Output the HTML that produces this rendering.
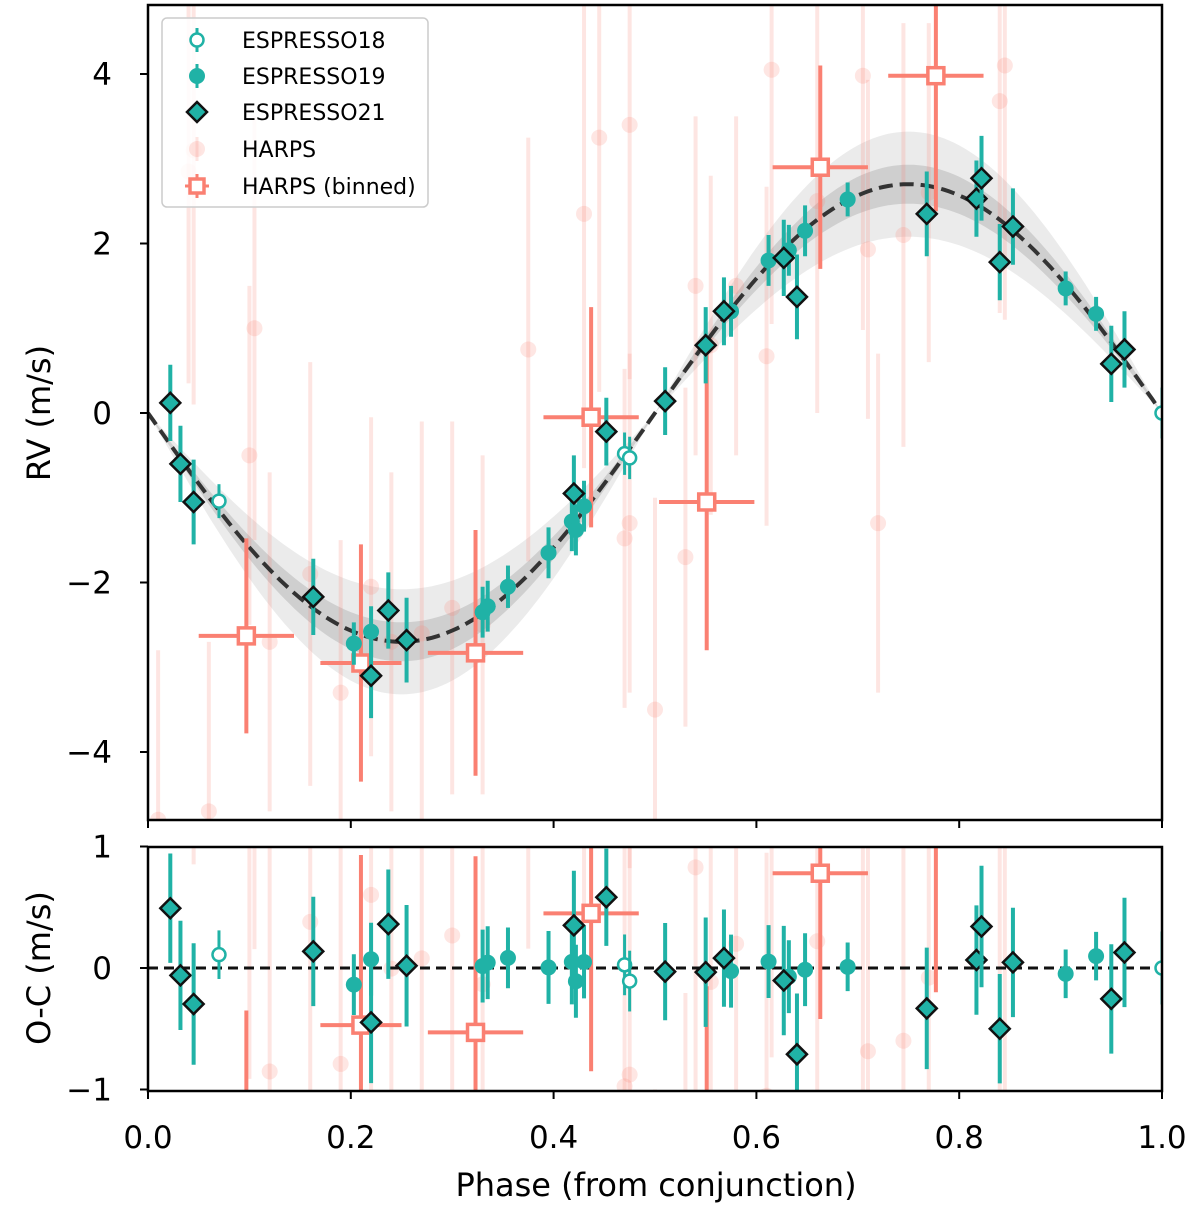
<!DOCTYPE html>
<html><head><meta charset="utf-8"><style>
html,body{margin:0;padding:0;background:#fff;overflow:hidden;}
svg{display:block;font-family:"DejaVu Sans","Liberation Sans",sans-serif;}
</style></head><body>
<svg id="chart" width="1200" height="1216" viewBox="0 0 1200 1216" xmlns="http://www.w3.org/2000/svg">
<defs>
<clipPath id="c1"><rect x="148" y="5" width="1014" height="815"/></clipPath>
<clipPath id="c2"><rect x="148" y="847" width="1014" height="244"/></clipPath>
</defs>
<g id="topPanel" clip-path="url(#c1)"></g>
<g id="botPanel" clip-path="url(#c2)"></g>
<g id="axes"></g>
<g id="legend"></g>
</svg>
<script>
// ---- data ----
const K = 2.7;
const bandDark = 0.23;
const bandLight = 0.62;
const esp18Phase = [0.07, 0.47, 0.475, 1.0];
const esp18RV = [-1.04, -0.48, -0.53, 0.0];
const esp18Err = [0.2, 0.25, 0.25, 0.3];
const esp19Phase = [0.203, 0.22, 0.33, 0.335, 0.355, 0.395, 0.418, 0.422, 0.43, 0.575, 0.612, 0.632, 0.648, 0.69, 0.905, 0.935];
const esp19RV = [-2.72, -2.58, -2.35, -2.28, -2.05, -1.65, -1.28, -1.38, -1.1, 1.2, 1.8, 1.92, 2.15, 2.52, 1.47, 1.17];
const esp19Err = [0.25, 0.3, 0.3, 0.3, 0.25, 0.3, 0.35, 0.3, 0.3, 0.3, 0.3, 0.3, 0.3, 0.2, 0.2, 0.2];
const esp21Phase = [0.022, 0.032, 0.045, 0.163, 0.22, 0.237, 0.255, 0.42, 0.452, 0.51, 0.55, 0.568, 0.627, 0.64, 0.768, 0.817, 0.822, 0.84, 0.853, 0.95, 0.963];
const esp21RV = [0.12, -0.6, -1.05, -2.17, -3.1, -2.33, -2.68, -0.95, -0.22, 0.14, 0.8, 1.2, 1.83, 1.37, 2.35, 2.53, 2.77, 1.78, 2.2, 0.58, 0.75];
const esp21Err = [0.45, 0.45, 0.5, 0.45, 0.5, 0.45, 0.5, 0.45, 0.4, 0.4, 0.45, 0.4, 0.45, 0.5, 0.5, 0.45, 0.5, 0.45, 0.45, 0.45, 0.45];
const binPhase = [0.097, 0.21, 0.323, 0.437, 0.551, 0.663, 0.777];
const binRV = [-2.63, -2.95, -2.83, -0.05, -1.05, 2.9, 3.98];
const binResid = [-1.5, -0.47, -0.53, 0.45, -1.9, 0.78, 1.4];
const binErr = [1.15, 1.4, 1.45, 1.3, 1.75, 1.2, 1.6];
const binXErr = [0.047, 0.04, 0.047, 0.047, 0.047, 0.047, 0.047];
const harpsPhase = [0.01, 0.04, 0.045, 0.06, 0.1, 0.105, 0.12, 0.16, 0.19, 0.22, 0.24, 0.27, 0.3, 0.33, 0.375, 0.43, 0.445, 0.47, 0.475, 0.475, 0.5, 0.53, 0.54, 0.555, 0.58, 0.61, 0.615, 0.66, 0.705, 0.71, 0.72, 0.745, 0.77, 0.84, 0.845];
const harpsRV = [-4.8, 2.85, 3.1, -4.7, -0.5, 1.0, -2.7, -1.9, -3.3, -2.05, -2.7, -2.6, -2.3, -2.5, 0.75, 2.35, 3.25, -1.48, 3.4, -1.3, -3.5, -1.7, 1.5, 0.8, 1.5, 0.67, 4.05, 2.5, 3.98, 1.93, -1.3, 2.1, 2.6, 3.68, 4.1];
const harpsErr = [2, 2.5, 3, 2, 2, 2.5, 2, 2.5, 1.8, 2, 2, 2.5, 2.2, 2, 2.5, 3, 3, 2, 3, 2, 2.5, 2, 2, 2, 2, 2, 3, 2.5, 3, 2, 2, 2.5, 2, 2.5, 3];
const yTicksTop = [-4, -2, 0, 2, 4];
const yTicksBot = [-1, 0, 1];
const xTicks = [0, 0.2, 0.4, 0.6, 0.8, 1.0];
const xTickLabels = ["0.0", "0.2", "0.4", "0.6", "0.8", "1.0"];

// ---- scales ----
const X = p => 148 + p * 1014;
const Y1 = v => 413 - v * 84.75;
const Y2 = v => 968 - v * 121.5;
const model = p => -K * Math.sin(2 * Math.PI * p);
const NS = "http://www.w3.org/2000/svg";
function mk(tag, parent, attrs) {
  const e = document.createElementNS(NS, tag);
  for (const k in attrs) e.setAttribute(k, attrs[k]);
  parent.appendChild(e);
  return e;
}
const topG = document.getElementById('topPanel');
const botG = document.getElementById('botPanel');
const axesG = document.getElementById('axes');
const legG = document.getElementById('legend');
const TEAL = '#20b2a6', SAL = '#fa8072';

function bandPath(w) {
  let up = [], dn = [];
  for (let i = 0; i <= 200; i++) {
    const p = i / 200, s = Math.sin(2 * Math.PI * p);
    const m = -K * s, d = w * Math.abs(s);
    up.push(X(p).toFixed(1) + ',' + Y1(m + d).toFixed(1));
    dn.unshift(X(p).toFixed(1) + ',' + Y1(m - d).toFixed(1));
  }
  return 'M' + up.join('L') + 'L' + dn.join('L') + 'Z';
}
let el = mk('path', topG, {d: bandPath(bandLight), fill: '#ebebeb'});


el = mk('path', topG, {d: bandPath(bandDark), fill: '#cfcfcf'});



function panelDraw(g, Y, resid) {
  const val = (p, v) => resid ? v - model(p) : v;
  harpsPhase.forEach((p, i) => {
    const v = val(p, harpsRV[i]);
    const a = mk('line', g, {x1: X(p), x2: X(p), y1: Y(v - harpsErr[i]), y2: Y(v + harpsErr[i]), stroke: SAL, 'stroke-width': 4, opacity: 0.2});
    
    
    const c = mk('circle', g, {cx: X(p), cy: Y(v), r: 8, fill: SAL, opacity: 0.2});
    
    
  });
  if (!resid) {
    let d = '';
    for (let i = 0; i <= 200; i++) { const p = i / 200; d += (i ? 'L' : 'M') + X(p).toFixed(1) + ',' + Y(model(p)).toFixed(1); }
    const m = mk('path', g, {d: d, fill: 'none', stroke: '#333', 'stroke-width': 4, 'stroke-dasharray': '14,7'});
    
    
  } else {
    const m = mk('line', g, {x1: X(0), x2: X(1), y1: Y(0), y2: Y(0), stroke: '#111', 'stroke-width': 3, 'stroke-dasharray': '10,6'});
    
    
  }
  binPhase.forEach((p, i) => {
    const v = resid ? binResid[i] : binRV[i];
    const a = mk('line', g, {x1: X(p), x2: X(p), y1: Y(v - binErr[i]), y2: Y(v + binErr[i]), stroke: SAL, 'stroke-width': 4});
    
    
    const b = mk('line', g, {x1: X(p - binXErr[i]), x2: X(p + binXErr[i]), y1: Y(v), y2: Y(v), stroke: SAL, 'stroke-width': 4});
    
    
    const r = mk('rect', g, {x: X(p) - 8, y: Y(v) - 8, width: 16, height: 16, fill: '#fff', stroke: SAL, 'stroke-width': 3.5});
    
    
  });
  esp19Phase.forEach((p, i) => {
    const v = val(p, esp19RV[i]);
    const a = mk('line', g, {x1: X(p), x2: X(p), y1: Y(v - esp19Err[i]), y2: Y(v + esp19Err[i]), stroke: TEAL, 'stroke-width': 4});
    
    
    const c = mk('circle', g, {cx: X(p), cy: Y(v), r: 8, fill: TEAL});
    
    
  });
  esp18Phase.forEach((p, i) => {
    const v = val(p, esp18RV[i]);
    const a = mk('line', g, {x1: X(p), x2: X(p), y1: Y(v - esp18Err[i]), y2: Y(v + esp18Err[i]), stroke: TEAL, 'stroke-width': 3});
    
    
    const c = mk('circle', g, {cx: X(p), cy: Y(v), r: 6.5, fill: '#fff', stroke: TEAL, 'stroke-width': 2.5});
    
    
  });
  esp21Phase.forEach((p, i) => {
    const v = val(p, esp21RV[i]);
    const a = mk('line', g, {x1: X(p), x2: X(p), y1: Y(v - esp21Err[i]), y2: Y(v + esp21Err[i]), stroke: TEAL, 'stroke-width': 4});
    
    
    const x = X(p), y = Y(v), s = 10;
    const d = mk('polygon', g, {points: `${x},${y - s} ${x + s},${y} ${x},${y + s} ${x - s},${y}`, fill: TEAL, stroke: '#111', 'stroke-width': 2.5});
    
    
  });
}
panelDraw(topG, Y1, false);
panelDraw(botG, Y2, true);

function frame(y0, y1, name) {
  const r = mk('rect', axesG, {x: 148, y: y0, width: 1014, height: y1 - y0, fill: 'none', stroke: '#000', 'stroke-width': 2.5});
  
  
}
frame(5, 820, 'rv-panel-frame');
frame(847, 1091, 'residual-panel-frame');
function ytick(v, Y, name) {
  const t = mk('line', axesG, {x1: 140, x2: 148, y1: Y(v), y2: Y(v), stroke: '#000', 'stroke-width': 2});
  
  
  const tx = mk('text', axesG, {x: 112, y: Y(v) + 11, 'text-anchor': 'end', 'font-size': 31});
  tx.textContent = (v < 0 ? '\u2212' + (-v) : '' + v);
  
  
}
yTicksTop.forEach(v => ytick(v, Y1, 'rv-y'));
yTicksBot.forEach(v => ytick(v, Y2, 'oc-y'));
xTicks.forEach((p, i) => {
  [[820, 828], [1091, 1099]].forEach(([a, b]) => {
    const t = mk('line', axesG, {x1: X(p), x2: X(p), y1: a, y2: b, stroke: '#000', 'stroke-width': 2});
    
    
  });
  const tx = mk('text', axesG, {x: X(p), y: 1148, 'text-anchor': 'middle', 'font-size': 31});
  tx.textContent = xTickLabels[i];
  
  
});
let tt = mk('text', axesG, {x: 656, y: 1196, 'text-anchor': 'middle', 'font-size': 32});
tt.textContent = 'Phase (from conjunction)';


tt = mk('text', axesG, {x: 0, y: 0, 'text-anchor': 'middle', 'font-size': 32, transform: 'translate(50,413) rotate(-90)'});
tt.textContent = 'RV (m/s)';


tt = mk('text', axesG, {x: 0, y: 0, 'text-anchor': 'middle', 'font-size': 32, transform: 'translate(50,968) rotate(-90)'});
tt.textContent = 'O-C (m/s)';



let lb = mk('rect', legG, {x: 162, y: 18, width: 266, height: 189, rx: 5, fill: '#fff', 'fill-opacity': 0.85, stroke: '#ccc', 'stroke-width': 1.5});


const legLabels = ['ESPRESSO18', 'ESPRESSO19', 'ESPRESSO21', 'HARPS', 'HARPS (binned)'];
const legY = [40, 76, 112, 149, 186];
legLabels.forEach((lab, i) => {
  const y = legY[i], x = 197;
  const g = mk('g', legG, {});
  
  
  if (i === 0) { mk('line', g, {x1: x, x2: x, y1: y - 12, y2: y + 12, stroke: TEAL, 'stroke-width': 3}); mk('circle', g, {cx: x, cy: y, r: 6.5, fill: '#fff', stroke: TEAL, 'stroke-width': 2.5}); }
  if (i === 1) { mk('line', g, {x1: x, x2: x, y1: y - 12, y2: y + 12, stroke: TEAL, 'stroke-width': 3}); mk('circle', g, {cx: x, cy: y, r: 8, fill: TEAL}); }
  if (i === 2) mk('polygon', g, {points: `${x},${y - 10} ${x + 10},${y} ${x},${y + 10} ${x - 10},${y}`, fill: TEAL, stroke: '#111', 'stroke-width': 2.5});
  if (i === 3) { mk('line', g, {x1: x, x2: x, y1: y - 12, y2: y + 12, stroke: SAL, 'stroke-width': 3, opacity: 0.2}); mk('circle', g, {cx: x, cy: y, r: 8, fill: SAL, opacity: 0.2}); }
  if (i === 4) { mk('line', g, {x1: x - 12, x2: x + 12, y1: y, y2: y, stroke: SAL, 'stroke-width': 3}); mk('line', g, {x1: x, x2: x, y1: y - 12, y2: y + 12, stroke: SAL, 'stroke-width': 3}); mk('rect', g, {x: x - 7, y: y - 7, width: 14, height: 14, fill: '#fff', stroke: SAL, 'stroke-width': 3.5}); }
  const tx = mk('text', g, {x: 242, y: y + 8, 'font-size': 22});
  tx.textContent = lab;
});
</script>
</body></html>
